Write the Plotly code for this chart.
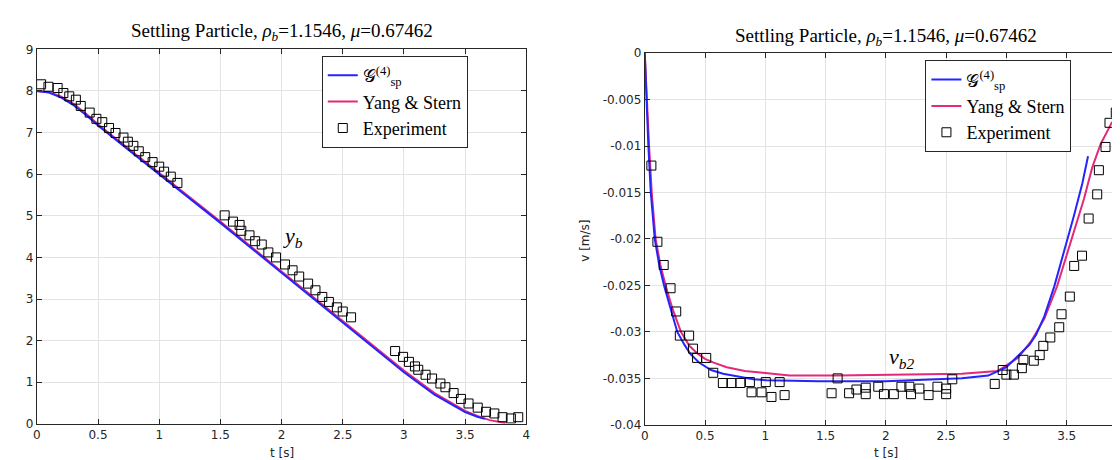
import plotly.graph_objects as go

# ---------------- data: left panel (position y_b) ----------------
t_gsp_y = [0, 0.1, 0.2, 0.3, 0.4, 0.5, 0.75, 1.0, 1.5, 2.0, 2.5, 3.0, 3.25, 3.5, 3.6, 3.66]
y_gsp = [8.0, 7.96, 7.84, 7.66, 7.43, 7.17, 6.58, 6.0, 4.83, 3.63, 2.43, 1.24, 0.7, 0.28, 0.17, 0.12]
t_ys_y = [0, 0.1, 0.2, 0.3, 0.4, 0.5, 0.75, 1.0, 1.5, 2.0, 2.5, 3.0, 3.25, 3.5, 3.6, 3.7, 3.83]
y_ys = [8.0, 7.97, 7.86, 7.69, 7.46, 7.2, 6.61, 6.03, 4.86, 3.66, 2.47, 1.28, 0.74, 0.31, 0.19, 0.09, 0.02]
t_exp_y = [0.035, 0.095, 0.17, 0.217, 0.265, 0.319, 0.359, 0.432, 0.487, 0.535, 0.59, 0.643,
           0.708, 0.744, 0.789, 0.833, 0.886, 0.946, 1.0, 1.04, 1.095, 1.149,
           1.535, 1.603, 1.657, 1.671, 1.738, 1.784, 1.838, 1.892, 1.955, 2.028, 2.09, 2.144,
           2.217, 2.277, 2.333, 2.387, 2.452, 2.5, 2.568,
           2.928, 2.993, 3.041, 3.09, 3.117, 3.177, 3.23, 3.298, 3.339, 3.406, 3.466, 3.528,
           3.603, 3.671, 3.739, 3.806, 3.874, 3.934]
y_exp = [8.16, 8.10, 8.07, 7.95, 7.87, 7.79, 7.64, 7.48, 7.33, 7.25, 7.11, 6.99,
         6.88, 6.78, 6.68, 6.55, 6.41, 6.29, 6.18, 6.06, 5.94, 5.79,
         5.01, 4.86, 4.78, 4.64, 4.53, 4.39, 4.31, 4.12, 4.00, 3.83, 3.69, 3.54,
         3.37, 3.21, 3.05, 2.93, 2.80, 2.70, 2.56,
         1.75, 1.61, 1.49, 1.38, 1.30, 1.18, 1.09, 0.97, 0.88, 0.74, 0.60, 0.49,
         0.39, 0.29, 0.25, 0.16, 0.13, 0.16]

# ---------------- data: right panel (velocity v_b2) ----------------
t_gsp_v = [0, 0.012, 0.03, 0.05, 0.083, 0.12, 0.16, 0.21, 0.27, 0.33, 0.38, 0.45, 0.55, 0.65,
           0.763, 0.9, 1.01, 1.44, 2.0, 2.63, 2.85, 3.0, 3.095, 3.19, 3.246, 3.315, 3.397,
           3.48, 3.56, 3.63, 3.677]
v_gsp = [0, -0.005, -0.010, -0.015, -0.020, -0.0228, -0.025, -0.0273, -0.030, -0.0314, -0.0324,
         -0.0333, -0.0341, -0.0345, -0.0348, -0.0351, -0.0352, -0.0353, -0.0353, -0.0350, -0.0347,
         -0.0338, -0.0326, -0.0314, -0.0303, -0.0283, -0.0251, -0.0213, -0.0175, -0.0140, -0.0111]
t_ys_v = [0, 0.016, 0.036, 0.058, 0.09, 0.13, 0.173, 0.23, 0.30, 0.37, 0.434, 0.5, 0.571, 0.68,
          0.83, 0.98, 1.2, 1.6, 2.0, 2.63, 2.93, 3.01, 3.095, 3.205, 3.314, 3.42, 3.534, 3.643,
          3.712, 3.781, 3.877]
v_ys = [0, -0.005, -0.010, -0.015, -0.020, -0.0228, -0.025, -0.0275, -0.030, -0.0315, -0.0323,
        -0.0329, -0.0333, -0.0338, -0.0342, -0.0344, -0.0347, -0.0347, -0.0346, -0.0345, -0.0342,
        -0.0335, -0.0328, -0.0310, -0.0286, -0.0251, -0.0202, -0.0157, -0.0123, -0.0098, -0.0074]
t_exp_v = [0.055, 0.105, 0.157, 0.214, 0.261, 0.291, 0.368, 0.40, 0.434, 0.51, 0.568, 0.648,
           0.719, 0.793, 0.872, 0.886, 0.969, 1.004, 1.051, 1.119, 1.16,
           1.55, 1.60, 1.695, 1.756, 1.833, 1.833, 1.937, 1.984, 2.066, 2.129, 2.195, 2.209,
           2.278, 2.354, 2.428, 2.50, 2.50, 2.551,
           2.903, 2.969, 3.0, 3.062, 3.128, 3.141, 3.227, 3.276, 3.306, 3.364, 3.438, 3.457,
           3.526, 3.562, 3.627, 3.682, 3.753, 3.767, 3.822, 3.855, 3.907, 3.951]
v_exp = [-0.0121, -0.0203, -0.0228, -0.0253, -0.0278, -0.0304, -0.0304, -0.0318, -0.0328, -0.0328,
         -0.0344, -0.0355, -0.0355, -0.0355, -0.0354, -0.0365, -0.0365, -0.0354, -0.0370, -0.0354,
         -0.0368,
         -0.0366, -0.0350, -0.0366, -0.0362, -0.0360, -0.0367, -0.0359, -0.0367, -0.0367, -0.0359,
         -0.0359, -0.0367, -0.0361, -0.0368, -0.0359, -0.0361, -0.0367, -0.0351,
         -0.0356, -0.0341, -0.0346, -0.0346, -0.0339, -0.0330, -0.0331, -0.0325, -0.0315, -0.0306,
         -0.0295, -0.0281, -0.0262, -0.0229, -0.0218, -0.0178, -0.0152, -0.0126, -0.0101, -0.0075,
         -0.0064, -0.0033]

# ---------------- tick labels ----------------
x_tickvals = [0, 0.5, 1, 1.5, 2, 2.5, 3, 3.5, 4]
x_ticktext = ["0", "0.5", "1", "1.5", "2", "2.5", "3", "3.5", "4"]
yl_tickvals = [0, 1, 2, 3, 4, 5, 6, 7, 8, 9]
yl_ticktext = ["0", "1", "2", "3", "4", "5", "6", "7", "8", "9"]
yr_tickvals = [0, -0.005, -0.01, -0.015, -0.02, -0.025, -0.03, -0.035, -0.04]
yr_ticktext = ["0", "-0.005", "-0.01", "-0.015", "-0.02", "-0.025", "-0.03", "-0.035", "-0.04"]

title_text = "Settling Particle, <i>ρ<sub>b</sub></i>=1.1546, <i>μ</i>=0.67462"
name_gsp = "𝒢<sup>(4)</sup><sub>sp</sub>"
name_ys = "Yang &amp; Stern"
name_exp = "Experiment"

BLUE = "#2424ff"
PINK = "#e62878"
AX = "#262626"
GRID = "#e3e3e3"
SERIF = "Liberation Serif, DejaVu Serif, serif"
SANS = "DejaVu Sans, Liberation Sans, sans-serif"

W, H = 1120, 460

fig = go.Figure()

# left panel
fig.add_trace(go.Scatter(x=t_ys_y, y=y_ys, mode="lines", name=name_ys, legendrank=2,
                         line=dict(color=PINK, width=2), xaxis="x", yaxis="y", legend="legend"))
fig.add_trace(go.Scatter(x=t_gsp_y, y=y_gsp, mode="lines", name=name_gsp, legendrank=1,
                         line=dict(color=BLUE, width=2), xaxis="x", yaxis="y", legend="legend"))
fig.add_trace(go.Scatter(x=t_exp_y, y=y_exp, mode="markers", name=name_exp, legendrank=3,
                         marker=dict(symbol="square-open", size=9, color="black", line=dict(width=1)),
                         xaxis="x", yaxis="y", legend="legend"))
# right panel
fig.add_trace(go.Scatter(x=t_ys_v, y=v_ys, mode="lines", name=name_ys, legendrank=2,
                         line=dict(color=PINK, width=2), xaxis="x2", yaxis="y2", legend="legend2"))
fig.add_trace(go.Scatter(x=t_gsp_v, y=v_gsp, mode="lines", name=name_gsp, legendrank=1,
                         line=dict(color=BLUE, width=2), xaxis="x2", yaxis="y2", legend="legend2"))
fig.add_trace(go.Scatter(x=t_exp_v, y=v_exp, mode="markers", name=name_exp, legendrank=3,
                         marker=dict(symbol="square-open", size=9, color="black", line=dict(width=1)),
                         xaxis="x2", yaxis="y2", legend="legend2"))

common_axis = dict(showline=True, linecolor=AX, linewidth=1, mirror="ticks", ticks="inside",
                   ticklen=5, tickcolor=AX, tickwidth=1, showgrid=True, gridcolor=GRID, gridwidth=1,
                   zeroline=False, tickfont=dict(family=SANS, size=12, color=AX))

# pixel-based domains
lx0, lx1 = 25, 518
ly_top, ly_bot = 35.4, 421.7
rx0 = 637.3
rx4 = 1123.0
ry_top, ry_bot = 39.3, 422.7

fig.update_layout(
    width=W, height=H, margin=dict(l=0, r=0, t=0, b=0),
    paper_bgcolor="white", plot_bgcolor="white",
    xaxis=dict(domain=[lx0 / W, lx1 / W], range=[0, 4], tickvals=x_tickvals, ticktext=x_ticktext,
               anchor="y", **common_axis),
    yaxis=dict(domain=[(H - ly_bot) / H, (H - ly_top) / H], range=[0, 9], tickvals=yl_tickvals,
               ticktext=yl_ticktext, anchor="x", **common_axis),
    xaxis2=dict(domain=[rx0 / W, 1.0], range=[0, 4 * (W - rx0) / (rx4 - rx0)], tickvals=x_tickvals,
                ticktext=x_ticktext, anchor="y2", **common_axis),
    yaxis2=dict(domain=[(H - ry_bot) / H, (H - ry_top) / H], range=[-0.04, 0], tickvals=yr_tickvals,
                ticktext=yr_ticktext, anchor="x2", **common_axis),
    legend=dict(x=312 / W, y=(H - 42.3) / H, xanchor="left", yanchor="top",
                bgcolor="white", bordercolor=AX, borderwidth=1,
                font=dict(family=SERIF, size=18, color="black"), tracegroupgap=0,
                itemwidth=30),
    legend2=dict(x=920 / W, y=(H - 46.7) / H, xanchor="left", yanchor="top",
                 bgcolor="white", bordercolor=AX, borderwidth=1,
                 font=dict(family=SERIF, size=18, color="black"), tracegroupgap=0,
                 itemwidth=30),
    showlegend=True,
)

annotations = [
    dict(text=title_text, x=(lx0 + lx1) / 2 / W, y=(H - 18) / H, xref="paper", yref="paper",
         showarrow=False, xanchor="center", yanchor="middle",
         font=dict(family=SERIF, size=19, color="black")),
    dict(text=title_text, x=(rx0 + rx4) / 2 / W, y=(H - 23) / H, xref="paper", yref="paper",
         showarrow=False, xanchor="center", yanchor="middle",
         font=dict(family=SERIF, size=19, color="black")),
    dict(text="t [s]", x=(lx0 + lx1) / 2 / W, y=(H - 452) / H, xref="paper", yref="paper",
         showarrow=False, xanchor="center", yanchor="middle", font=dict(family=SANS, size=12, color=AX)),
    dict(text="t [s]", x=(rx0 + rx4) / 2 / W, y=(H - 452) / H, xref="paper", yref="paper",
         showarrow=False, xanchor="center", yanchor="middle", font=dict(family=SANS, size=12, color=AX)),
    dict(text="v [m/s]", x=577 / W, y=(H - 233) / H, xref="paper", yref="paper", textangle=-90,
         showarrow=False, xanchor="center", yanchor="middle", font=dict(family=SANS, size=12, color=AX)),
    dict(text="<i>y<sub>b</sub></i>", x=2.09, y=4.5, xref="x", yref="y", showarrow=False,
         xanchor="center", yanchor="middle", font=dict(family=SERIF, size=22, color="black")),
    dict(text="<i>v<sub>b2</sub></i>", x=2.13, y=-0.0328, xref="x2", yref="y2", showarrow=False,
         xanchor="center", yanchor="middle", font=dict(family=SERIF, size=22, color="black")),
]
fig.update_layout(annotations=annotations)

fig.write_html("out.html")
